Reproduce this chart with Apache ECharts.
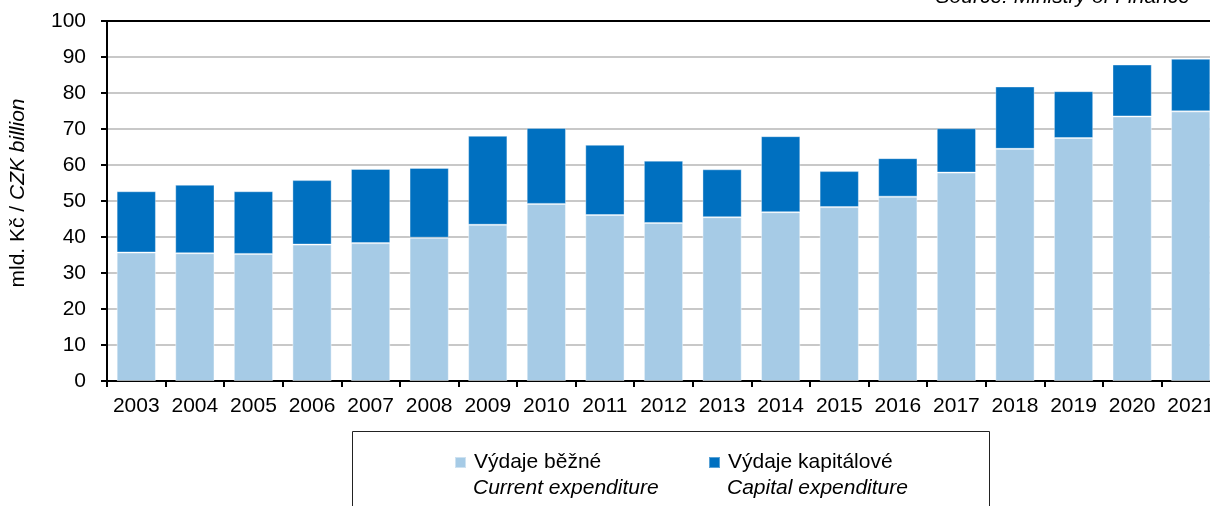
<!DOCTYPE html>
<html>
<head>
<meta charset="utf-8">
<script src="https://cdn.jsdelivr.net/npm/echarts@6/dist/echarts.min.js"></script>
<style>
  html, body { margin: 0; padding: 0; background: #fff; overflow: hidden; }
  /* plot runs a little past the right edge of the picture, as in the source */
  #chart { width: 1220px; height: 506px; }
</style>
</head>
<body>
<div id="chart"></div>
<script>
// data (mld. Kč)
const years = ['2003', '2004', '2005', '2006', '2007', '2008', '2009', '2010', '2011', '2012',
  '2013', '2014', '2015', '2016', '2017', '2018', '2019', '2020', '2021'];
const currentExp = [35.7, 35.5, 35.3, 37.9, 38.3, 39.8, 43.4, 49.2, 46.1, 43.9,
  45.5, 46.9, 48.3, 51.2, 57.9, 64.5, 67.5, 73.5, 74.9];
const capitalExp = [17.0, 19.0, 17.4, 17.9, 20.6, 19.4, 24.7, 21.1, 19.5, 17.3,
  13.3, 21.1, 10.0, 10.7, 12.3, 17.3, 13.0, 14.4, 14.6];
const yTicks = [0, 10, 20, 30, 40, 50, 60, 70, 80, 90, 100];

const nameCur = 'Výdaje běžné';
const nameCap = 'Výdaje kapitálové';
const font = 'Liberation Sans, Arial, sans-serif';

const chart = echarts.init(document.getElementById('chart'), null, { renderer: 'canvas' });

chart.setOption({
  backgroundColor: '#fff',
  animation: false,
  textStyle: { fontFamily: font, color: '#000' },
  grid: { left: 107, top: 21, bottom: 125, right: 0 },
  xAxis: [
    {
      type: 'category',
      data: years,
      boundaryGap: true,
      axisLine: { lineStyle: { color: '#000', width: 2 } },
      axisTick: { show: true, interval: 0, length: 6, lineStyle: { color: '#000', width: 2 } },
      axisLabel: { interval: 0, color: '#000', fontSize: 21, fontFamily: font, margin: 15 },
    },
    {
      type: 'category',
      data: years,
      position: 'top',
      axisLine: { show: true, lineStyle: { color: '#000', width: 2 } },
      axisTick: { show: false },
      axisLabel: { show: false },
    },
  ],
  yAxis: {
    type: 'value',
    min: yTicks[0],
    max: yTicks[yTicks.length - 1],
    interval: 10,
    name: '{n|mld. Kč / }{i|CZK billion}',
    nameLocation: 'middle',
    nameGap: 78,
    nameRotate: 90,
    nameTextStyle: {
      padding: [0, 0, 0, 16],
      rich: {
        n: { fontSize: 21, fontFamily: font, color: '#000' },
        i: { fontSize: 21, fontFamily: font, fontStyle: 'italic', color: '#000' },
      },
    },
    axisLine: { show: true, lineStyle: { color: '#000', width: 2 } },
    axisTick: { show: true, length: 6, lineStyle: { color: '#000', width: 2 } },
    axisLabel: { color: '#000', fontSize: 21, fontFamily: font, margin: 21 },
    splitLine: { show: true, lineStyle: { color: '#c8c8c8', width: 2 } },
  },
  legend: [
    {
      data: [nameCur],
      left: 454, top: 452, padding: 0,
      itemWidth: 11, itemHeight: 11, itemGap: 0,
      icon: 'rect',
      textStyle: { fontSize: 21, fontFamily: font, color: '#000', padding: [0, 0, 0, 3] },
    },
    {
      data: [nameCap],
      left: 708, top: 452, padding: 0,
      itemWidth: 11, itemHeight: 11, itemGap: 0,
      icon: 'rect',
      textStyle: { fontSize: 21, fontFamily: font, color: '#000', padding: [0, 0, 0, 3] },
    },
  ],
  graphic: [
    {
      type: 'rect',
      shape: { x: 352.5, y: 431.5, width: 637, height: 120 },
      style: { fill: 'none', stroke: '#222', lineWidth: 1 },
      silent: true,
    },
    {
      type: 'text', left: 473, top: 478,
      style: { text: 'Current expenditure', font: 'italic 21px ' + font, fill: '#000' },
    },
    {
      type: 'text', left: 727, top: 478,
      style: { text: 'Capital expenditure', font: 'italic 21px ' + font, fill: '#000' },
    },
    {
      type: 'text', right: 30, top: -13,
      style: { text: 'Source: Ministry of Finance', font: 'italic 21px ' + font, fill: '#000' },
    },
  ],
  series: [
    {
      name: nameCur,
      type: 'bar',
      stack: 'total',
      data: currentExp,
      barWidth: '67%',
      itemStyle: { color: '#a6cbe6', borderColor: 'rgba(255,255,255,0.45)', borderWidth: 1 },
    },
    {
      name: nameCap,
      type: 'bar',
      stack: 'total',
      data: capitalExp,
      barWidth: '67%',
      itemStyle: { color: '#0070c0', borderColor: 'rgba(255,255,255,0.35)', borderWidth: 1 },
    },
  ],
});
</script>
</body>
</html>
